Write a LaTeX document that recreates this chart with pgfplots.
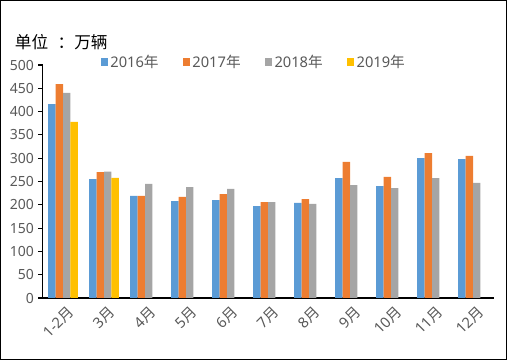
\documentclass[border=0pt]{standalone}
\usepackage{pgfplots}
\pgfplotsset{compat=1.18}
\usepackage{fontspec}
\setmainfont{Noto Sans CJK SC}
\newfontfamily\numf{Noto Sans}
\definecolor{cA}{HTML}{5B9BD5}
\definecolor{cB}{HTML}{ED7D31}
\definecolor{cC}{HTML}{A5A5A5}
\definecolor{cD}{HTML}{FFC000}
\definecolor{txt}{HTML}{595959}
\begin{document}
\begin{tikzpicture}
\useasboundingbox (0,0) rectangle (380.25pt,270pt);
\draw[black, line width=0.6pt] (0.4pt,0.4pt) rectangle (379.85pt,269.6pt);
\node[anchor=west, font=\fontsize{12.5pt}{14pt}\selectfont, text=black, inner sep=0pt] at (11pt,238.5pt) {单位\hspace{7pt}：万辆};
\begin{axis}[
  at={(31.875pt,46.5pt)}, anchor=south west,
  scale only axis, width=338.25pt, height=174.75pt,
  ybar=0pt, bar width=5.6pt,
  xmin=-0.5, xmax=10.5, ymin=0, ymax=500,
  ytick distance=50,
  xtick={0,...,10},
  xticklabels={{\numf 1-2}月,{\numf 3}月,{\numf 4}月,{\numf 5}月,{\numf 6}月,{\numf 7}月,{\numf 8}月,{\numf 9}月,{\numf 10}月,{\numf 11}月,{\numf 12}月},
  axis x line=bottom, axis y line=left,
  axis line style={black, line width=1.4pt, -},
  x axis line style={-}, y axis line style={-},
  xtick style={draw=none},
  ytick style={black, line width=0.8pt},
  tick align=outside, major tick length=3pt,
  /pgf/number format/assume math mode=true,
  yticklabel style={font=\fontsize{10.5pt}{12pt}\selectfont\numf, text=txt},
  xticklabel style={font=\fontsize{11pt}{12pt}\selectfont, text=txt, rotate=45, anchor=east, yshift=-8pt, xshift=4pt},
  legend style={draw=none, fill=none, at={(0.469,1.013)}, anchor=center,
    legend columns=4, font=\fontsize{11pt}{12pt}\selectfont, text=txt,
    /tikz/every even column/.append style={column sep=16pt}},
  legend image code/.code={\fill[#1] (0pt,-2.7pt) rectangle (5.4pt,2.7pt);},
]
\addplot[fill=cA, draw=none] coordinates {(0,416) (1,255) (2,219) (3,208) (4,210) (5,197) (6,204) (7,257) (8,240) (9,300) (10,298)};
\addplot[fill=cB, draw=none] coordinates {(0,459) (1,270) (2,219) (3,217) (4,223) (5,206) (6,212) (7,292) (8,260) (9,311) (10,305)};
\addplot[fill=cC, draw=none] coordinates {(0,440) (1,271) (2,245) (3,238) (4,234) (5,206) (6,202) (7,242) (8,236) (9,257) (10,247)};
\addplot[fill=cD, draw=none] coordinates {(0,378) (1,258)};
\legend{{\numf 2016}年,{\numf 2017}年,{\numf 2018}年,{\numf 2019}年}
\end{axis}
\end{tikzpicture}
\end{document}
